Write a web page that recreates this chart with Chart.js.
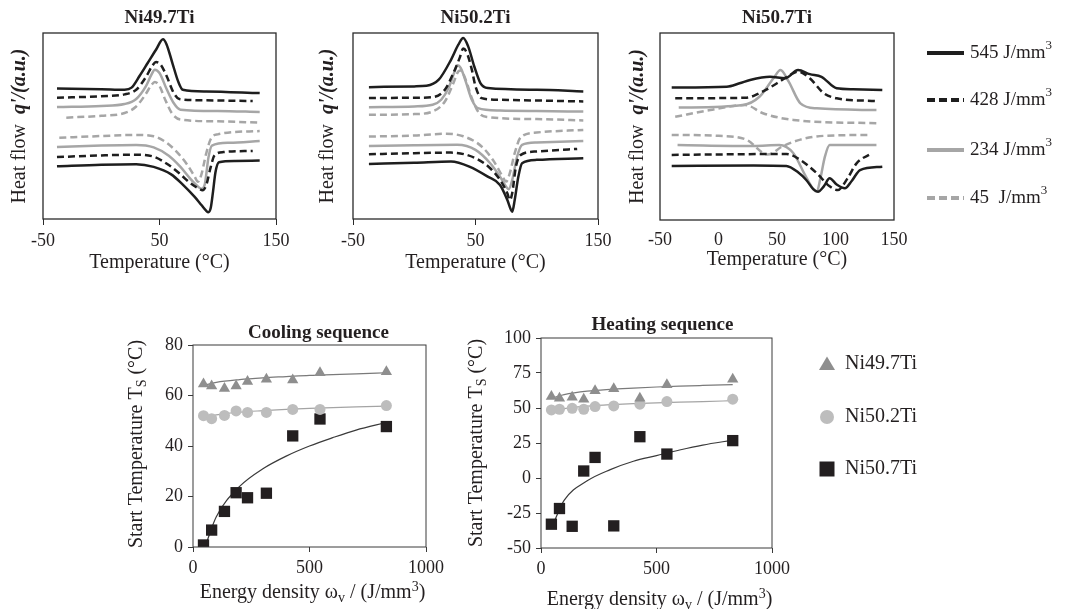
<!DOCTYPE html>
<html>
<head>
<meta charset="utf-8">
<script src="https://cdn.jsdelivr.net/npm/chart.js@4.4.1/dist/chart.umd.min.js"></script>
<style>
html, body { margin: 0; padding: 0; background: #fff; }
body { width: 1066px; height: 609px; position: relative; overflow: hidden; }
canvas { position: absolute; }
</style>
</head>
<body>
<canvas id="c1" width="300" height="280" style="left:0px;top:0px"></canvas>
<canvas id="c2" width="320" height="280" style="left:300px;top:0px"></canvas>
<canvas id="c3" width="446" height="280" style="left:620px;top:0px"></canvas>
<canvas id="c4" width="330" height="299" style="left:120px;top:310px"></canvas>
<canvas id="c5" width="611" height="299" style="left:455px;top:310px"></canvas>
<script>
// DSC curves, [temperature °C, heat flow a.u.]
// Ni49.7Ti
const ni497Cool545 = [[-38,70.1],[0,69.8],[20,69.5],[26,70.6],[33,77],[40,84],[47,91],[53,96.6],[56,94],[61,84],[66,74],[70,69.5],[90,68.6],[136,67.7]];
const ni497Cool428 = [[-38,65.2],[0,66],[20,67],[30,69.5],[38,76],[44,82.5],[47,84.4],[51,83],[56,77],[62,68],[67,64.5],[90,63.8],[130,63.4]];
const ni497Cool234 = [[-38,60.2],[0,60.8],[20,61.8],[30,64.5],[38,71],[43,77.5],[46,80.3],[50,78.5],[56,70],[62,62.5],[68,58.8],[100,58.1],[136,57.5]];
const ni497Cool45 = [[-30,54.5],[0,55.5],[20,57],[30,60.5],[38,67],[43,72],[46,73.7],[50,71.5],[55,64],[61,56.5],[68,53.5],[100,52.5],[136,51.8]];
const ni497Heat45 = [[-36,43.7],[0,44.6],[30,45.2],[45,44.5],[55,41.5],[65,36],[74,29],[80,23],[83,20],[86,24],[90,35],[94,43],[100,45.5],[136,47.3]];
const ni497Heat234 = [[-38,38.7],[0,39.5],[30,39.8],[45,38.5],[58,34],[68,28],[76,22],[82,18],[86,16.3],[89,19],[92,33],[95,39.5],[110,41],[136,41.9]];
const ni497Heat428 = [[-38,33.3],[0,34.2],[30,34.6],[45,33.5],[58,29],[68,24],[76,19.5],[82,17],[87,15.5],[90,18],[94,28],[97,34],[105,36],[130,36.6]];
const ni497Heat545 = [[-38,28.3],[0,29.2],[30,29.5],[45,28],[60,24],[70,18.5],[80,12],[86,7.5],[90,4.5],[92,3.6],[94,6],[96,15],[98,25],[101,30.5],[115,31.2],[136,31.4]];
// Ni50.2Ti
const ni502Cool545 = [[-37,70.9],[0,71.3],[10,71.6],[20,74.9],[30,85.6],[36,93.7],[40,97.3],[44,92.8],[49,82],[54,73.1],[60,70.4],[100,69.5],[138,68.6]];
const ni502Cool428 = [[-37,65],[0,65.2],[15,65.5],[25,69.5],[32,78.5],[37,86.5],[40,91.6],[43,89.2],[47,80.3],[50,71.3],[55,65],[70,64.1],[100,63.7],[138,63.2]];
const ni502Cool234 = [[-37,60.1],[0,60.5],[15,61.4],[22,64.1],[28,70.4],[33,79.4],[35,82.6],[38,81.1],[42,74],[47,64.1],[52,59.6],[70,58.3],[100,58],[138,57.8]];
const ni502Cool45 = [[-37,56],[0,56.4],[15,57.8],[25,63.2],[32,73.1],[36,79.4],[38,79.9],[42,74.9],[47,65],[53,56.9],[60,54.8],[100,53.7],[138,53]];
const ni502Heat45 = [[-37,44.3],[0,44.9],[25,45.8],[40,44.5],[55,39],[65,31],[72,23],[75,20.1],[78,24.6],[82,35.4],[87,44],[100,46.5],[138,47.9]];
const ni502Heat234 = [[-37,39.3],[0,39.7],[35,39.9],[50,37.2],[62,30],[70,22.8],[75,17.4],[77,16],[80,21],[84,33.6],[88,39.9],[100,41.1],[138,42]];
const ni502Heat428 = [[-37,34.8],[0,35.4],[30,35.7],[50,32.7],[62,27.3],[70,21],[76,13.8],[78,10.2],[80,14],[83,28.2],[87,34.5],[100,36.3],[133,37.7]];
const ni502Heat545 = [[-37,29.6],[0,30.2],[30,30.9],[45,28.2],[60,22.8],[70,18.3],[76,10.2],[79,4.8],[80,3.9],[82,10.2],[85,22.8],[88,30],[100,31.8],[138,32.7]];
// Ni50.7Ti
const ni507Cool545 = [[-40,70.8],[7,71.3],[18,73.1],[27,74.9],[44,76.6],[57,75.8],[68,80.2],[78,78],[88,76.6],[101,70.4],[115,69.9],[140,69.5]];
const ni507Cool428 = [[-37,65.1],[24,65.4],[35,67.8],[50,73.1],[61,77.5],[68,79.4],[78,75.8],[90,67.8],[101,65.1],[135,63.6]];
const ni507Cool234 = [[-34,60.1],[21,61.5],[35,65.9],[47,75.8],[53,80.2],[60,74],[70,62.4],[84,59.7],[135,58.8]];
const ni507Cool45 = [[-37,55.2],[-7,58.8],[23,61.5],[38,57.1],[64,53.5],[135,51.7]];
const ni507Heat45 = [[-40,45.5],[0,45],[24,42.9],[42,35],[55,39.5],[70,43],[90,45],[130,45.5]];
const ni507Heat234 = [[-35,40.1],[30,39.6],[52,40.1],[64,35.7],[74,24],[81,16.5],[84,15.1],[87,22],[91,34],[95,40.1],[135,40.1]];
const ni507Heat428 = [[-40,34.8],[24,35.2],[58,35.3],[70,32.1],[84,25],[95,18],[102,16],[110,22],[118,30.3],[131,35.7]];
const ni507Heat545 = [[-40,28.9],[30,29.2],[58,28.9],[68,25.5],[75,21.4],[81,16.5],[85,15.1],[90,18],[95,22.3],[101,19],[108,17],[114,21],[121,26.7],[140,28.5]];

const energyLevels = ['545', '428', '234', '45'];

// start temperatures vs energy density
const energy = [45, 80, 135, 185, 234, 315, 428, 545, 830];
const tsCool497 = [64.6, 63.8, 62.8, 63.8, 65.5, 66.4, 66.1, 69.0, 69.4];
const tsCool502 = [52.0, 50.8, 52.1, 53.9, 53.3, 53.3, 54.5, 54.5, 56.0];
const tsCool507 = [0.8, 6.7, 14.1, 21.5, 19.5, 21.3, 44.0, 50.7, 47.7];
const tsHeat497 = [58.2, 57.0, 57.7, 56.3, 62.3, 63.7, 57.0, 66.6, 70.6];
const tsHeat502 = [48.6, 49.1, 49.8, 49.1, 51.0, 51.5, 52.7, 54.6, 56.3];
const tsHeat507 = [-33.0, -21.8, -34.5, 5.0, 14.7, -34.2, 29.5, 17.1, 26.7];

// trend lines
const fitEnergy = [45, 100, 200, 300, 400, 500, 600, 700, 830];
const fitEnergy507 = [55, 100, 200, 300, 400, 500, 600, 700, 830];
const fitCool497 = [64.0, 65.2, 66.3, 67.0, 67.5, 68.0, 68.3, 68.6, 69.0];
const fitCool502 = [51.0, 52.3, 53.4, 54.0, 54.5, 54.9, 55.2, 55.5, 55.8];
const fitCool507 = [1.0, 12.0, 24.0, 31.0, 36.0, 40.0, 43.3, 46.3, 49.3];
const fitHeat497 = [57.0, 59.5, 62.0, 63.3, 64.2, 65.0, 65.6, 66.1, 66.7];
const fitHeat502 = [47.5, 49.5, 51.3, 52.4, 53.1, 53.7, 54.2, 54.6, 55.2];
const fitHeat507 = [-32.0, -16.0, -2.0, 6.0, 12.0, 16.0, 20.0, 23.5, 27.0];

const alloys = ['Ni49.7Ti', 'Ni50.2Ti', 'Ni50.7Ti'];

const SERIF = "'Liberation Serif', 'Times New Roman', serif";
const INK = '#231f20';
const f = (size, style) => `${style || ''} ${size}px ${SERIF}`;

const lineStyles = {
    '545': { color: '#1e1e1e', dash: [] },
    '428': { color: '#1e1e1e', dash: [7, 4] },
    '234': { color: '#a6a6a6', dash: [] },
    '45': { color: '#a6a6a6', dash: [7, 4] }
}
const markers = [
    { style: 'triangle', color: '#8e8e8e', radius: 6.5, fit: '#7a7a7a' },
    { style: 'circle', color: '#bdbdbd', radius: 5.5, fit: '#a4a4a4' },
    { style: 'rect', color: INK, radius: 8, fit: '#3a3a3a' }
]

function drawRich(ctx, parts, x, y, angle) {
    ctx.save()
    ctx.translate(x, y)
    if (angle) ctx.rotate(angle)
    ctx.textBaseline = 'middle'
    ctx.textAlign = 'left'
    let total = 0
    parts.forEach((p) => {
        ctx.font = p.font
        p.w = ctx.measureText(p.text).width
        total += p.w
    })
    let cx = -total / 2
    parts.forEach((p) => {
        ctx.font = p.font
        ctx.fillStyle = INK
        ctx.fillText(p.text, cx, p.dy || 0)
        cx += p.w
    })
    ctx.restore()
}

function framePlugin(color, width) {
    return {
        id: 'frame',
        afterDatasetsDraw(chart) {
            const a = chart.chartArea
            const ctx = chart.ctx
            ctx.save()
            ctx.strokeStyle = color
            ctx.lineWidth = width
            ctx.strokeRect(a.left, a.top, a.right - a.left, a.bottom - a.top)
            ctx.restore()
        }
    }
}

function textPlugin(build) {
    return {
        id: 'texts',
        afterDraw(chart) {
            const a = chart.chartArea
            build(a, chart.ctx).forEach((t) => drawRich(chart.ctx, t.parts, t.x, t.y, t.angle))
        }
    }
}

function curve(points, level, label) {
    return {
        label: label,
        data: points.map((p) => ({ x: p[0], y: p[1] })),
        borderColor: lineStyles[level].color,
        borderDash: lineStyles[level].dash,
        borderWidth: 2.5,
        pointRadius: 0,
        cubicInterpolationMode: 'monotone',
        fill: false
    }
}

function dscChart(id, title, curves, opts) {
    const datasets = []
    curves.forEach((c, i) => datasets.push(curve(c, energyLevels[i % 4], energyLevels[i % 4] + ' J/mm³')))
    const plugins = [
        framePlugin('#2a2a2a', 1.3),
        textPlugin((a) => {
            const cx = (a.left + a.right) / 2
            return [
                { parts: [{ text: title, font: f(19, 'bold') }], x: cx, y: a.top - 15 },
                {
                    parts: [
                        { text: 'Heat flow  ', font: f(20) },
                        { text: "q'/(a.u.)", font: f(20, 'italic bold') }
                    ],
                    x: a.left - opts.yTitleGap, y: (a.top + a.bottom) / 2, angle: -Math.PI / 2
                },
                { parts: [{ text: 'Temperature (°C)', font: f(20) }], x: cx, y: a.bottom + opts.xTitleGap }
            ]
        })
    ]
    if (opts.legend) plugins.push(opts.legend)
    return new Chart(document.getElementById(id), {
        type: 'line',
        data: { datasets: datasets },
        options: {
            responsive: false,
            animation: false,
            events: [],
            layout: { padding: { top: opts.top, right: opts.right, left: 0, bottom: 0 } },
            plugins: { legend: { display: false }, tooltip: { enabled: false }, title: { display: false } },
            scales: {
                x: {
                    type: 'linear',
                    min: -50,
                    max: 150,
                    ticks: { stepSize: opts.step, color: INK, font: { family: SERIF, size: 18 }, padding: opts.tickPad },
                    grid: { display: opts.ticks, drawOnChartArea: false, tickLength: 6, color: '#2a2a2a' },
                    border: { display: false },
                    afterFit: (s) => { s.height = opts.xHeight }
                },
                y: {
                    min: 0,
                    max: 100,
                    ticks: { display: false },
                    grid: { display: false },
                    border: { display: false },
                    afterFit: (s) => { s.width = opts.yWidth }
                }
            }
        },
        plugins: plugins
    })
}

const topLegend = {
    id: 'topLegend',
    afterDraw(chart) {
        const a = chart.chartArea
        const ctx = chart.ctx
        const rows = [53, 100, 150, 198]
        energyLevels.forEach((level, i) => {
            const y = rows[i]
            ctx.save()
            ctx.strokeStyle = lineStyles[level].color
            ctx.lineWidth = 4
            ctx.setLineDash(lineStyles[level].dash.length ? [8, 4] : [])
            ctx.beginPath()
            ctx.moveTo(a.right + 33, y)
            ctx.lineTo(a.right + 70, y)
            ctx.stroke()
            ctx.restore()
            const name = level === '45' ? '45  J/mm' : level + ' J/mm'
            const parts = [{ text: name, font: f(19) }, { text: '3', font: f(13), dy: -7 }]
            ctx.save()
            ctx.font = f(19)
            const w = ctx.measureText(name).width
            ctx.font = f(13)
            const w2 = ctx.measureText('3').width
            ctx.restore()
            drawRich(ctx, parts, a.right + 76 + (w + w2) / 2, y)
        })
    }
}

dscChart('c1', alloys[0],
    [ni497Cool545, ni497Cool428, ni497Cool234, ni497Cool45, ni497Heat545, ni497Heat428, ni497Heat234, ni497Heat45],
    { top: 33, right: 24, yWidth: 43, xHeight: 61, step: 100, ticks: true, tickPad: 5, yTitleGap: 23, xTitleGap: 44 })
dscChart('c2', alloys[1],
    [ni502Cool545, ni502Cool428, ni502Cool234, ni502Cool45, ni502Heat545, ni502Heat428, ni502Heat234, ni502Heat45],
    { top: 33, right: 22, yWidth: 53, xHeight: 61, step: 100, ticks: true, tickPad: 5, yTitleGap: 25, xTitleGap: 44 })
dscChart('c3', alloys[2],
    [ni507Cool545, ni507Cool428, ni507Cool234, ni507Cool45, ni507Heat545, ni507Heat428, ni507Heat234, ni507Heat45],
    { top: 33, right: 172, yWidth: 40, xHeight: 60, step: 50, ticks: false, tickPad: 3, yTitleGap: 22, xTitleGap: 40, legend: topLegend })

function pairs(xs, ys) {
    return xs.map((x, i) => ({ x: x, y: ys[i] }))
}

function tsChart(id, title, values, fits, opts) {
    const datasets = []
    values.forEach((v, i) => {
        datasets.push({
            type: 'scatter',
            label: alloys[i],
            data: pairs(energy, v),
            pointStyle: markers[i].style,
            pointRadius: markers[i].radius,
            pointBackgroundColor: markers[i].color,
            pointBorderColor: markers[i].color,
            pointBorderWidth: 0,
            order: 1
        })
        datasets.push({
            type: 'line',
            label: alloys[i] + ' fit',
            data: pairs(i === 2 ? fitEnergy507 : fitEnergy, fits[i]),
            borderColor: markers[i].fit,
            borderWidth: 1.2,
            pointRadius: 0,
            cubicInterpolationMode: 'monotone',
            fill: false,
            order: 2
        })
    })
    const plugins = [
        framePlugin('#3a3a3a', 1),
        textPlugin((a) => {
            const cx = (a.left + a.right) / 2
            return [
                { parts: [{ text: title, font: f(19, 'bold') }], x: cx + opts.titleShift, y: a.top - opts.titleGap },
                {
                    parts: [
                        { text: 'Start Temperature T', font: f(20) },
                        { text: 'S', font: f(14), dy: 5 },
                        { text: ' (°C)', font: f(20) }
                    ],
                    x: a.left - opts.yTitleGap, y: a.top + opts.yTitleY, angle: -Math.PI / 2
                },
                {
                    parts: [
                        { text: 'Energy density ω', font: f(20) },
                        { text: 'v', font: f(14), dy: 5 },
                        { text: ' / (J/mm', font: f(20) },
                        { text: '3', font: f(14), dy: -6 },
                        { text: ')', font: f(20) }
                    ],
                    x: cx + 3, y: a.bottom + opts.xTitleGap
                }
            ]
        })
    ]
    if (opts.legend) plugins.push(opts.legend)
    return new Chart(document.getElementById(id), {
        type: 'scatter',
        data: { datasets: datasets },
        options: {
            responsive: false,
            animation: false,
            events: [],
            layout: { padding: { top: opts.top, right: opts.right, left: 0, bottom: 0 } },
            plugins: { legend: { display: false }, tooltip: { enabled: false }, title: { display: false } },
            scales: {
                x: {
                    type: 'linear',
                    min: 0,
                    max: 1000,
                    ticks: {
                        stepSize: 500, color: INK, font: { family: SERIF, size: 18 }, padding: 5,
                        callback: (v) => String(v)
                    },
                    grid: { drawOnChartArea: false, tickLength: 5, color: '#3a3a3a' },
                    border: { display: false },
                    afterFit: (s) => { s.height = opts.xHeight }
                },
                y: {
                    min: opts.yMin,
                    max: opts.yMax,
                    ticks: { stepSize: opts.yStep, color: INK, font: { family: SERIF, size: 18 }, padding: 5 },
                    grid: { drawOnChartArea: false, tickLength: 5, color: '#3a3a3a' },
                    border: { display: false },
                    afterFit: (s) => { s.width = opts.yWidth }
                }
            }
        },
        plugins: plugins
    })
}

const bottomLegend = {
    id: 'bottomLegend',
    afterDraw(chart) {
        const a = chart.chartArea
        const ctx = chart.ctx
        const rows = [a.top + 26, a.top + 79, a.top + 131]
        const mx = a.right + 55
        markers.forEach((m, i) => {
            const y = rows[i]
            ctx.save()
            ctx.fillStyle = m.color
            ctx.beginPath()
            if (m.style === 'triangle') {
                ctx.moveTo(mx, y - 7.5)
                ctx.lineTo(mx + 8, y + 6)
                ctx.lineTo(mx - 8, y + 6)
                ctx.closePath()
            } else if (m.style === 'circle') {
                ctx.arc(mx, y, 7, 0, Math.PI * 2)
            } else {
                ctx.rect(mx - 7.5, y - 7.5, 15, 15)
            }
            ctx.fill()
            ctx.restore()
            ctx.save()
            ctx.font = f(20)
            ctx.fillStyle = INK
            ctx.textBaseline = 'middle'
            ctx.fillText(alloys[i], a.right + 73, y)
            ctx.restore()
        })
    }
}

tsChart('c4', 'Cooling sequence', [tsCool497, tsCool502, tsCool507], [fitCool497, fitCool502, fitCool507],
    { top: 35, right: 24, yWidth: 73, xHeight: 62, yMin: 0, yMax: 80, yStep: 20,
      titleShift: 9, titleGap: 12, yTitleGap: 56, yTitleY: 99, xTitleGap: 46 })
tsChart('c5', 'Heating sequence', [tsHeat497, tsHeat502, tsHeat507], [fitHeat497, fitHeat502, fitHeat507],
    { top: 28, right: 294, yWidth: 86, xHeight: 61, yMin: -50, yMax: 100, yStep: 25,
      titleShift: 6, titleGap: 13, yTitleGap: 64, yTitleY: 105, xTitleGap: 52, legend: bottomLegend })
</script>
</body>
</html>
